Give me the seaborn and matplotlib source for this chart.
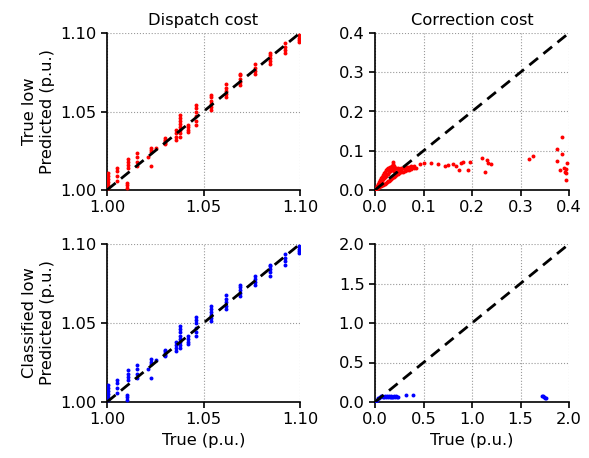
import numpy as np
import pandas as pd
import matplotlib
matplotlib.use("Agg")
import matplotlib.pyplot as plt
import seaborn as sns

# ---- Dispatch cost data (true, predicted), in p.u. ----
disp_true = ([1.0003] * 6 + [1.0053] * 4 + [1.0105] * 3 + [1.011] * 4 + [1.0155] * 4 +
             [1.021] + [1.023] * 4 + [1.0255] + [1.030] * 5 + [1.036] * 4 + [1.038] * 8 +
             [1.042] * 4 + [1.046] * 6 + [1.054] * 6 + [1.0615] * 5 + [1.069] * 5 +
             [1.0767] * 4 + [1.0845] * 5 + [1.092] * 4 + [1.0995] * 4)
disp_pred = [1.001, 1.003, 1.005, 1.007, 1.009, 1.011,
             1.006, 1.009, 1.012, 1.014,
             1.001, 1.003, 1.0045,
             1.014, 1.016, 1.018, 1.020,
             1.015, 1.018, 1.021, 1.0235,
             1.021,
             1.015, 1.024, 1.0255, 1.027,
             1.0265,
             1.029, 1.030, 1.031, 1.032, 1.033,
             1.032, 1.034, 1.036, 1.038,
             1.034, 1.036, 1.038, 1.040, 1.042, 1.044, 1.046, 1.048,
             1.037, 1.038, 1.040, 1.0415,
             1.0415, 1.044, 1.047, 1.050, 1.052, 1.054,
             1.051, 1.053, 1.055, 1.057, 1.059, 1.0605,
             1.059, 1.061, 1.063, 1.065, 1.0675,
             1.067, 1.069, 1.071, 1.073, 1.074,
             1.074, 1.076, 1.078, 1.080,
             1.080, 1.082, 1.084, 1.086, 1.087,
             1.087, 1.089, 1.091, 1.0935,
             1.094, 1.0955, 1.097, 1.0985]

# ---- Correction cost, true-low set (red) ----
corr_true_r = [0.003, 0.003, 0.005, 0.005, 0.005, 0.007, 0.007, 0.007, 0.009, 0.009, 0.009,
               0.011, 0.011, 0.011, 0.013, 0.013, 0.013, 0.015, 0.015, 0.015,
               0.017, 0.017, 0.017, 0.019, 0.019, 0.019, 0.021, 0.021, 0.021,
               0.023, 0.023, 0.023, 0.025, 0.025, 0.025, 0.027, 0.027, 0.027,
               0.029, 0.029, 0.029, 0.031, 0.031, 0.031, 0.033, 0.033, 0.033,
               0.035, 0.035, 0.035, 0.037, 0.037, 0.037, 0.037, 0.039, 0.039, 0.039,
               0.041, 0.041, 0.044, 0.044, 0.044, 0.047, 0.047, 0.047, 0.050, 0.050,
               0.054, 0.054, 0.054, 0.058, 0.058, 0.062, 0.062, 0.066, 0.066,
               0.070, 0.070, 0.075, 0.075, 0.080, 0.080, 0.084,
               0.093, 0.101, 0.115, 0.130, 0.144, 0.151, 0.160, 0.166, 0.174, 0.178,
               0.182, 0.192, 0.195, 0.221, 0.226, 0.230, 0.232, 0.239, 0.317, 0.326,
               0.376, 0.386, 0.386, 0.376, 0.382, 0.389, 0.392, 0.393, 0.395, 0.394, 0.393]
corr_pred_r = [0.002, 0.006, 0.004, 0.010, 0.007, 0.005, 0.015, 0.010, 0.007, 0.020, 0.013,
               0.009, 0.025, 0.016, 0.010, 0.030, 0.020, 0.012, 0.034, 0.024,
               0.013, 0.038, 0.027, 0.015, 0.043, 0.030, 0.016, 0.047, 0.033,
               0.018, 0.050, 0.036, 0.020, 0.053, 0.040, 0.022, 0.055, 0.042,
               0.024, 0.056, 0.045, 0.026, 0.058, 0.048, 0.028, 0.059, 0.050,
               0.030, 0.062, 0.052, 0.032, 0.066, 0.055, 0.072, 0.034, 0.060, 0.048,
               0.036, 0.057, 0.039, 0.056, 0.046, 0.041, 0.055, 0.048, 0.043, 0.054,
               0.045, 0.056, 0.050, 0.047, 0.055, 0.049, 0.057, 0.050, 0.058,
               0.052, 0.059, 0.053, 0.060, 0.055, 0.061, 0.057,
               0.065, 0.070, 0.070, 0.067, 0.061, 0.063, 0.065, 0.060, 0.050, 0.070,
               0.071, 0.052, 0.071, 0.081, 0.047, 0.076, 0.070, 0.067, 0.079, 0.087,
               0.104, 0.134, 0.092, 0.075, 0.052, 0.055, 0.047, 0.026, 0.068, 0.054, 0.043]

# ---- Correction cost, classified-low set (blue) ----
corr_true_b = [0.005, 0.01, 0.02, 0.03, 0.04, 0.05, 0.06, 0.07, 0.08, 0.09, 0.10, 0.11,
               0.12, 0.13, 0.14, 0.15, 0.16, 0.17, 0.18, 0.19, 0.20, 0.21, 0.22, 0.23,
               0.24, 0.32, 0.39, 1.72, 1.73, 1.74, 1.75, 1.76]
corr_pred_b = [0.005, 0.015, 0.03, 0.045, 0.055, 0.065, 0.07, 0.073, 0.06, 0.065, 0.07, 0.068,
               0.072, 0.065, 0.07, 0.062, 0.068, 0.072, 0.065, 0.06, 0.07, 0.066, 0.072, 0.062,
               0.068, 0.09, 0.092, 0.08, 0.07, 0.06, 0.05, 0.045]

col_titles = ["Dispatch cost", "Correction cost"]
row_labels = ["True low\nPredicted (p.u.)", "Classified low\nPredicted (p.u.)"]
disp_ticks = [1.00, 1.05, 1.10]
corr_ticks_top = [0.0, 0.1, 0.2, 0.3, 0.4]
corr_ticks_bot = [0.0, 0.5, 1.0, 1.5, 2.0]

sns.set_style("ticks", {"axes.edgecolor": "black", "text.color": "black",
                        "xtick.color": "black", "ytick.color": "black",
                        "axes.labelcolor": "black"})
plt.rcParams['font.family'] = ['DejaVu Sans']
FS = 11.7
plt.rcParams['font.size'] = FS

fig = plt.figure(figsize=(5.89, 4.58), dpi=100)
pos = {
    (0, 0): [107 / 589, 1 - 190 / 458, 193 / 589, 157 / 458],
    (0, 1): [375 / 589, 1 - 190 / 458, 194 / 589, 157 / 458],
    (1, 0): [107 / 589, 1 - 402 / 458, 193 / 589, 158 / 458],
    (1, 1): [375 / 589, 1 - 402 / 458, 194 / 589, 158 / 458],
}
axes = {k: fig.add_axes(v) for k, v in pos.items()}

panels = {
    (0, 0): (disp_true, disp_pred, "red", disp_ticks, ["1.00", "1.05", "1.10"]),
    (1, 0): (disp_true, disp_pred, "blue", disp_ticks, ["1.00", "1.05", "1.10"]),
    (0, 1): (corr_true_r, corr_pred_r, "red", corr_ticks_top, None),
    (1, 1): (corr_true_b, corr_pred_b, "blue", corr_ticks_bot, None),
}

for (r, c), (xt, yp, col, ticks, labels) in panels.items():
    ax = axes[(r, c)]
    df = pd.DataFrame({"true": xt, "pred": yp})
    lo, hi = ticks[0], ticks[-1]
    ax.grid(True, ls=':', color='#999999', lw=0.8, zorder=0)
    ax.set_axisbelow(True)
    sns.scatterplot(data=df, x="true", y="pred", color=col, s=8, linewidth=0,
                    ax=ax, zorder=3, clip_on=True)
    sns.lineplot(x=[lo, hi], y=[lo, hi], color='black', lw=2, ls=(0, (4, 2.5)),
                 ax=ax, zorder=4)
    ax.set_xlim(lo, hi)
    ax.set_ylim(lo, hi)
    ax.set_xticks(ticks)
    ax.set_yticks(ticks)
    if labels:
        ax.set_xticklabels(labels)
        ax.set_yticklabels(labels)
    for s in ["top", "right"]:
        ax.spines[s].set_visible(False)
    for s in ["left", "bottom"]:
        ax.spines[s].set_linewidth(1.2)
        ax.spines[s].set_color("black")
    ax.tick_params(direction='out', length=4, width=1.2, labelsize=FS, colors='black')
    ax.set_xlabel("True (p.u.)" if r == 1 else "", fontsize=FS, color='black')
    ax.set_ylabel(row_labels[r] if c == 0 else "", fontsize=FS, color='black')
    if r == 0:
        ax.set_title(col_titles[c], fontsize=FS, color='black')

fig.savefig("out.png", dpi=100)
